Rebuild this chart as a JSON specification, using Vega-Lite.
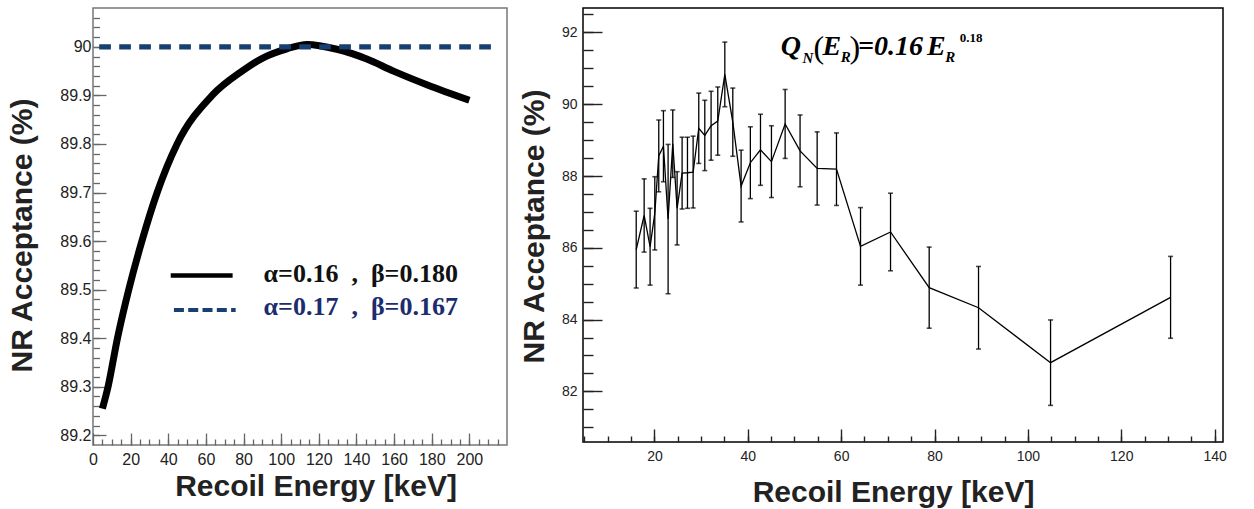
{
  "$schema": "https://vega.github.io/schema/vega-lite/v6.json",
  "padding": {"left": 6, "top": 7, "right": 0, "bottom": 0},
  "background": "white",
  "spacing": 10,
  "config": {"font": "Liberation Sans", "axis": {"grid": false, "domain": false, "labelFlush": false, "labelOverlap": false}},
  "datasets": {
    "curve": [
      {"E": 5, "A": 89.255}, {"E": 8, "A": 89.3}, {"E": 13, "A": 89.4}, {"E": 19, "A": 89.5},
      {"E": 26, "A": 89.6}, {"E": 34.1, "A": 89.7}, {"E": 44.7, "A": 89.8}, {"E": 63.3, "A": 89.9},
      {"E": 79.2, "A": 89.95}, {"E": 90.7, "A": 89.978}, {"E": 103.1, "A": 89.996}, {"E": 113.7, "A": 90.005},
      {"E": 129.6, "A": 89.995}, {"E": 145.5, "A": 89.975}, {"E": 159.7, "A": 89.95}, {"E": 177.4, "A": 89.922},
      {"E": 200, "A": 89.89}
    ],
    "flat": [{"E": 3.3, "A": 90}, {"E": 214, "A": 90}],
    "meas": [
      {"E": 16.1, "A": 85.95, "err": 1.07}, {"E": 17.8, "A": 86.9, "err": 1.02},
      {"E": 19.07, "A": 86.03, "err": 1.07}, {"E": 20.08, "A": 86.96, "err": 1.02},
      {"E": 20.93, "A": 88.56, "err": 1.0}, {"E": 21.93, "A": 88.83, "err": 0.99},
      {"E": 22.93, "A": 86.8, "err": 2.08}, {"E": 23.93, "A": 88.9, "err": 0.94},
      {"E": 24.86, "A": 87.1, "err": 1.02}, {"E": 25.93, "A": 88.08, "err": 1.0},
      {"E": 27.08, "A": 88.09, "err": 0.99}, {"E": 28.29, "A": 88.11, "err": 1.0},
      {"E": 29.5, "A": 89.33, "err": 0.98}, {"E": 30.79, "A": 89.13, "err": 0.98},
      {"E": 32.14, "A": 89.4, "err": 0.96}, {"E": 33.57, "A": 89.53, "err": 0.95},
      {"E": 35.08, "A": 90.83, "err": 0.9}, {"E": 36.79, "A": 89.5, "err": 0.95},
      {"E": 38.57, "A": 87.72, "err": 1.0}, {"E": 40.55, "A": 88.37, "err": 1.0},
      {"E": 42.72, "A": 88.73, "err": 0.99}, {"E": 45.07, "A": 88.4, "err": 1.0},
      {"E": 48.0, "A": 89.45, "err": 0.96}, {"E": 51.2, "A": 88.7, "err": 1.0},
      {"E": 54.86, "A": 88.21, "err": 1.02}, {"E": 59.0, "A": 88.19, "err": 1.01},
      {"E": 64.15, "A": 86.04, "err": 1.08}, {"E": 70.58, "A": 86.44, "err": 1.08},
      {"E": 78.86, "A": 84.89, "err": 1.13}, {"E": 89.43, "A": 84.33, "err": 1.15},
      {"E": 104.86, "A": 82.8, "err": 1.19}, {"E": 130.57, "A": 84.62, "err": 1.14}
    ]
  },
  "hconcat": [
    {
      "width": 414,
      "height": 437,
      "view": {"stroke": "#777", "strokeWidth": 1.5},
      "resolve": {"axis": {"x": "independent", "y": "independent"}},
      "layer": [
        {
          "data": {"name": "curve"},
          "mark": {"type": "line", "color": "black", "strokeWidth": 7, "interpolate": "monotone"},
          "encoding": {
            "x": {"field": "E", "type": "quantitative",
              "scale": {"domain": [0, 220], "nice": false, "zero": false},
              "axis": {"values": [0, 20, 40, 60, 80, 100, 120, 140, 160, 180, 200],
                "title": "Recoil Energy [keV]", "titleFontSize": 30, "titleFontWeight": "bold", "titleColor": "#222",
                "titleX": 222.5, "titleY": 50, "titleBaseline": "alphabetic", "titleAlign": "center", "titleAnchor": null,
                "labelFontSize": 16, "labelColor": "#222", "labelPadding": 18,
                "tickSize": -12, "tickColor": "#666", "tickWidth": 1.3}},
            "y": {"field": "A", "type": "quantitative",
              "scale": {"domain": [89.18, 90.08], "nice": false, "zero": false},
              "axis": {"values": [89.2, 89.3, 89.4, 89.5, 89.6, 89.7, 89.8, 89.9, 90], "format": "~f",
                "title": "NR Acceptance (%)", "titleFontSize": 30, "titleFontWeight": "bold", "titleColor": "#222",
                "titleX": -62, "titleY": 227, "titleAngle": -90, "titleBaseline": "alphabetic", "titleAlign": "center", "titleAnchor": null,
                "labelFontSize": 16, "labelColor": "#222", "labelPadding": 15,
                "tickSize": -13, "tickColor": "#666", "tickWidth": 1.3}}
          }
        },
        {
          "data": {"name": "flat"},
          "mark": {"type": "line", "color": "#173f72", "strokeWidth": 5.3, "strokeDash": [11.7, 8.3]},
          "encoding": {
            "x": {"field": "E", "type": "quantitative",
              "axis": {"orient": "bottom", "values": [5, 10, 15, 20, 25, 30, 35, 40, 45, 50, 55, 60, 65, 70, 75, 80, 85, 90, 95, 100, 105, 110, 115, 120, 125, 130, 135, 140, 145, 150, 155, 160, 165, 170, 175, 180, 185, 190, 195, 200, 205, 210, 215],
                "labels": false, "title": null, "tickSize": -6, "tickColor": "#666", "tickWidth": 1.3}},
            "y": {"field": "A", "type": "quantitative",
              "axis": {"orient": "left", "values": [89.2, 89.22, 89.24, 89.26, 89.28, 89.3, 89.32, 89.34, 89.36, 89.38, 89.4, 89.42, 89.44, 89.46, 89.48, 89.5, 89.52, 89.54, 89.56, 89.58, 89.6, 89.62, 89.64, 89.66, 89.68, 89.7, 89.72, 89.74, 89.76, 89.78, 89.8, 89.82, 89.84, 89.86, 89.88, 89.9, 89.92, 89.94, 89.96, 89.98, 90, 90.02, 90.04, 90.06],
                "labels": false, "title": null, "tickSize": -6.5, "tickColor": "#666", "tickWidth": 1.3}}
          }
        },
        {
          "data": {"values": [{}]},
          "mark": {"type": "rule", "color": "black", "strokeWidth": 4.5},
          "encoding": {
            "x": {"datum": 41.3, "type": "quantitative", "axis": null},
            "x2": {"datum": 74.2},
            "y": {"datum": 89.529, "type": "quantitative", "axis": null}
          }
        },
        {
          "data": {"values": [{}]},
          "mark": {"type": "rule", "color": "#173f72", "strokeWidth": 4, "strokeDash": [10, 4.3]},
          "encoding": {
            "x": {"datum": 43, "type": "quantitative", "axis": null},
            "x2": {"datum": 75.8},
            "y": {"datum": 89.458, "type": "quantitative", "axis": null}
          }
        },
        {
          "data": {"values": [{}]},
          "mark": {"type": "text", "text": "α=0.16\u2002,\u2002β=0.180", "font": "Liberation Serif", "fontSize": 26, "fontWeight": "bold", "align": "left", "baseline": "alphabetic", "color": "#111"},
          "encoding": {
            "x": {"datum": 90.65, "type": "quantitative", "axis": null},
            "y": {"datum": 89.515, "type": "quantitative", "axis": null}
          }
        },
        {
          "data": {"values": [{}]},
          "mark": {"type": "text", "text": "α=0.17\u2002,\u2002β=0.167", "font": "Liberation Serif", "fontSize": 26, "fontWeight": "bold", "align": "left", "baseline": "alphabetic", "color": "#1c2d6e"},
          "encoding": {
            "x": {"datum": 90.65, "type": "quantitative", "axis": null},
            "y": {"datum": 89.447, "type": "quantitative", "axis": null}
          }
        }
      ]
    },
    {
      "width": 640,
      "height": 434,
      "view": {"stroke": "black", "strokeWidth": 1.5},
      "resolve": {"axis": {"x": "independent", "y": "independent"}},
      "layer": [
        {
          "data": {"name": "meas"},
          "mark": {"type": "line", "color": "black", "strokeWidth": 1.3},
          "encoding": {
            "x": {"field": "E", "type": "quantitative",
              "scale": {"domain": [4.7, 141.8], "nice": false, "zero": false},
              "axis": {"values": [20, 40, 60, 80, 100, 120, 140],
                "title": "Recoil Energy [keV]", "titleFontSize": 30, "titleFontWeight": "bold", "titleColor": "#222",
                "titleX": 310, "titleY": 59, "titleBaseline": "alphabetic", "titleAlign": "center", "titleAnchor": null,
                "labelFontSize": 14, "labelColor": "#222", "labelPadding": 20,
                "tickSize": -13, "tickColor": "#222", "tickWidth": 1.4}},
            "y": {"field": "A", "type": "quantitative",
              "scale": {"domain": [80.59, 92.68], "nice": false, "zero": false},
              "axis": {"values": [82, 84, 86, 88, 90, 92],
                "title": "NR Acceptance (%)", "titleFontSize": 30, "titleFontWeight": "bold", "titleColor": "#222",
                "titleX": -40, "titleY": 218, "titleAngle": -90, "titleBaseline": "alphabetic", "titleAlign": "center", "titleAnchor": null,
                "labelFontSize": 14, "labelColor": "#222", "labelPadding": 25,
                "tickSize": -19, "tickColor": "#222", "tickWidth": 1.4}}
          }
        },
        {
          "data": {"name": "meas"},
          "mark": {"type": "errorbar", "ticks": {"size": 5, "thickness": 1.6, "color": "black"}, "rule": {"strokeWidth": 1.3, "color": "black"}},
          "encoding": {
            "x": {"field": "E", "type": "quantitative", "axis": null},
            "y": {"field": "A", "type": "quantitative", "axis": null},
            "yError": {"field": "err"}
          }
        },
        {
          "data": {"values": [{}]},
          "mark": {"type": "text", "text": "Q", "font": "Liberation Serif", "fontSize": 28, "fontWeight": "bold", "fontStyle": "italic", "align": "left", "baseline": "alphabetic", "color": "black"},
          "encoding": {
            "x": {"datum": 47.08, "type": "quantitative",
              "axis": {"orient": "bottom", "values": [5, 10, 15, 20, 25, 30, 35, 40, 45, 50, 55, 60, 65, 70, 75, 80, 85, 90, 95, 100, 105, 110, 115, 120, 125, 130, 135, 140],
                "labels": false, "title": null, "tickSize": -6, "tickColor": "#222", "tickWidth": 1.4}},
            "y": {"datum": 91.368, "type": "quantitative",
              "axis": {"orient": "left", "values": [81, 81.5, 82, 82.5, 83, 83.5, 84, 84.5, 85, 85.5, 86, 86.5, 87, 87.5, 88, 88.5, 89, 89.5, 90, 90.5, 91, 91.5, 92, 92.5],
                "labels": false, "title": null, "tickSize": -10, "tickColor": "#222", "tickWidth": 1.4}}
          }
        },
        {
          "data": {"values": [{}]},
          "mark": {"type": "text", "text": "N", "font": "Liberation Serif", "fontSize": 15, "fontWeight": "bold", "fontStyle": "italic", "align": "left", "baseline": "alphabetic", "color": "black"},
          "encoding": {"x": {"datum": 51.7, "type": "quantitative", "axis": null}, "y": {"datum": 91.159, "type": "quantitative", "axis": null}}
        },
        {
          "data": {"values": [{}]},
          "mark": {"type": "text", "text": "(", "font": "Liberation Serif", "fontSize": 32, "fontWeight": "normal", "align": "left", "baseline": "alphabetic", "color": "black"},
          "encoding": {"x": {"datum": 54.1, "type": "quantitative", "axis": null}, "y": {"datum": 91.29, "type": "quantitative", "axis": null}}
        },
        {
          "data": {"values": [{}]},
          "mark": {"type": "text", "text": "E", "font": "Liberation Serif", "fontSize": 28, "fontWeight": "bold", "fontStyle": "italic", "align": "left", "baseline": "alphabetic", "color": "black"},
          "encoding": {"x": {"datum": 56.0, "type": "quantitative", "axis": null}, "y": {"datum": 91.368, "type": "quantitative", "axis": null}}
        },
        {
          "data": {"values": [{}]},
          "mark": {"type": "text", "text": "R", "font": "Liberation Serif", "fontSize": 15, "fontWeight": "bold", "fontStyle": "italic", "align": "left", "baseline": "alphabetic", "color": "black"},
          "encoding": {"x": {"datum": 59.9, "type": "quantitative", "axis": null}, "y": {"datum": 91.173, "type": "quantitative", "axis": null}}
        },
        {
          "data": {"values": [{}]},
          "mark": {"type": "text", "text": ")", "font": "Liberation Serif", "fontSize": 32, "fontWeight": "normal", "align": "left", "baseline": "alphabetic", "color": "black"},
          "encoding": {"x": {"datum": 61.8, "type": "quantitative", "axis": null}, "y": {"datum": 91.29, "type": "quantitative", "axis": null}}
        },
        {
          "data": {"values": [{}]},
          "mark": {"type": "text", "text": "=0.16", "font": "Liberation Serif", "fontSize": 28, "fontWeight": "bold", "fontStyle": "italic", "align": "left", "baseline": "alphabetic", "color": "black"},
          "encoding": {"x": {"datum": 63.6, "type": "quantitative", "axis": null}, "y": {"datum": 91.368, "type": "quantitative", "axis": null}}
        },
        {
          "data": {"values": [{}]},
          "mark": {"type": "text", "text": "E", "font": "Liberation Serif", "fontSize": 28, "fontWeight": "bold", "fontStyle": "italic", "align": "left", "baseline": "alphabetic", "color": "black"},
          "encoding": {"x": {"datum": 78.4, "type": "quantitative", "axis": null}, "y": {"datum": 91.368, "type": "quantitative", "axis": null}}
        },
        {
          "data": {"values": [{}]},
          "mark": {"type": "text", "text": "R", "font": "Liberation Serif", "fontSize": 15, "fontWeight": "bold", "fontStyle": "italic", "align": "left", "baseline": "alphabetic", "color": "black"},
          "encoding": {"x": {"datum": 82.3, "type": "quantitative", "axis": null}, "y": {"datum": 91.173, "type": "quantitative", "axis": null}}
        },
        {
          "data": {"values": [{}]},
          "mark": {"type": "text", "text": "0.18", "font": "Liberation Serif", "fontSize": 13, "fontWeight": "bold", "align": "left", "baseline": "alphabetic", "color": "black"},
          "encoding": {"x": {"datum": 85.4, "type": "quantitative", "axis": null}, "y": {"datum": 91.73, "type": "quantitative", "axis": null}}
        }
      ]
    }
  ]
}
